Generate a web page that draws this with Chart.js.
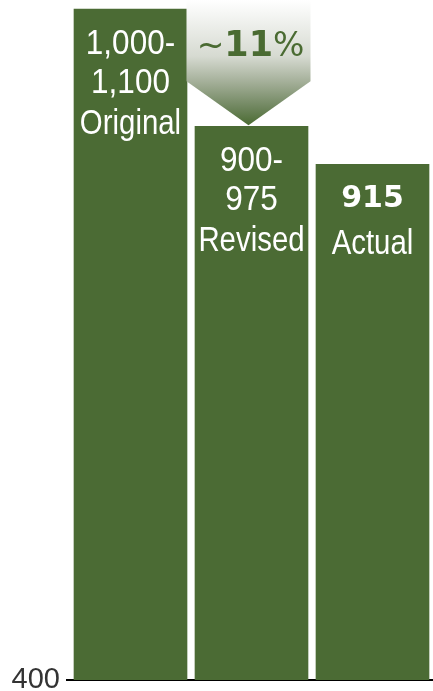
<!DOCTYPE html>
<html>
<head>
<meta charset="utf-8">
<script src="https://cdn.jsdelivr.net/npm/chart.js@4.4.1/dist/chart.umd.min.js"></script>
<style>
  html, body { margin: 0; padding: 0; background: #fff; }
  #wrap { width: 433px; height: 691px; position: relative; }
</style>
</head>
<body>
<div id="wrap"><canvas id="myChart"></canvas></div>
<script>
"use strict"

// chart data
const categories = ["Original", "Revised", "Actual"];
const rangeLabels = [["1,000-", "1,100"], ["900-", "975"], ["915"]];
const boldRange = [false, false, true];
const values = [1070, 953, 915];
const changeLabel = ["~", "11", "%"];
const yTicks = [400];
const yMin = 400;
const yMax = 1073;

const barGreen = "#4b6b34";

// white text, squeezed a bit to look like the original narrow font
function drawNarrow(ctx, text, x, y, squeeze) {
    ctx.save();
    ctx.translate(x, y);
    ctx.scale(squeeze, 1);
    ctx.fillText(text, 0, 0);
    ctx.restore();
}

// labels inside the bars
const barLabelPlugin = {
    id: "barLabels",
    afterDatasetsDraw(chart) {
        const ctx = chart.ctx;
        const meta = chart.getDatasetMeta(0);
        ctx.save();
        ctx.fillStyle = "#ffffff";
        ctx.textAlign = "center";
        ctx.textBaseline = "alphabetic";
        for (let i = 0; i < meta.data.length; i++) {
            const bar = meta.data[i];
            const lines = rangeLabels[i];
            let y;
            if (boldRange[i]) {
                y = bar.y + 43;
                ctx.font = "bold 30px 'DejaVu Sans'";
                ctx.fillText(lines[0], bar.x, y);
                y += 47;
            } else {
                y = bar.y + 45;
                ctx.font = "35px 'Liberation Sans'";
                for (let k = 0; k < lines.length; k++) {
                    drawNarrow(ctx, lines[k], bar.x, y, 0.9);
                    y += (k < lines.length - 1) ? 39 : 41;
                }
            }
            ctx.font = "35px 'Liberation Sans'";
            drawNarrow(ctx, categories[i], bar.x, y, 0.84);
        }
        ctx.restore();
    }
};

// gradient arrow pointing down at the revised bar
const arrowPlugin = {
    id: "changeArrow",
    afterDatasetsDraw(chart) {
        const ctx = chart.ctx;
        const bar = chart.getDatasetMeta(0).data[1];
        const tipX = bar.x - 3;
        const tipY = bar.y - 1;
        const half = 62;
        const topY = 0;
        const neckY = tipY - 44;

        const grad = ctx.createLinearGradient(0, topY, 0, tipY);
        grad.addColorStop(0, "#ffffff");
        grad.addColorStop(0.45, "#d6dad1");
        grad.addColorStop(0.65, "#a5b09a");
        grad.addColorStop(0.85, "#718760");
        grad.addColorStop(1, "#4a6b32");

        ctx.save();
        ctx.beginPath();
        ctx.moveTo(tipX - half, topY);
        ctx.lineTo(tipX + half, topY);
        ctx.lineTo(tipX + half, neckY);
        ctx.lineTo(tipX, tipY);
        ctx.lineTo(tipX - half, neckY);
        ctx.closePath();
        ctx.fillStyle = grad;
        ctx.fill();

        // "~11%" with bold number
        const fonts = ["33px 'DejaVu Sans'", "bold 35px 'DejaVu Sans'", "33px 'DejaVu Sans'"];
        let total = 0;
        const widths = [];
        for (let i = 0; i < changeLabel.length; i++) {
            ctx.font = fonts[i];
            widths.push(ctx.measureText(changeLabel[i]).width);
            total += widths[i];
        }
        let x = tipX + 2 - total / 2;
        ctx.fillStyle = "#4a6b32";
        ctx.textAlign = "left";
        ctx.textBaseline = "alphabetic";
        for (let i = 0; i < changeLabel.length; i++) {
            ctx.font = fonts[i];
            ctx.fillText(changeLabel[i], x, topY + 56);
            x += widths[i];
        }
        ctx.restore();
    }
};

const data = {
    labels: categories,
    datasets: [
        {
            data: values,
            backgroundColor: barGreen,
            borderWidth: 0,
            barThickness: 113
        }
    ]
};

const config = {
    type: "bar",
    data: data,
    options: {
        responsive: true,
        maintainAspectRatio: false,
        animation: false,
        layout: { padding: { top: 0, right: 0, bottom: 3, left: 0 } },
        plugins: {
            legend: { display: false },
            tooltip: { enabled: false }
        },
        scales: {
            x: {
                grid: { display: false },
                ticks: { display: false },
                border: { display: true, color: "#000000", width: 2 }
            },
            y: {
                min: yMin,
                max: yMax,
                afterBuildTicks(scale) {
                    scale.ticks = yTicks.map(v => ({ value: v }));
                },
                afterFit(scale) {
                    scale.width = 70;
                },
                grid: {
                    drawOnChartArea: false,
                    drawTicks: true,
                    tickLength: 4,
                    color: "#000000",
                    lineWidth: 2
                },
                border: { display: false },
                ticks: {
                    color: "#333333",
                    padding: 6,
                    font: { family: "'Liberation Sans'", size: 29, lineHeight: 0.01 }
                }
            }
        }
    },
    plugins: [barLabelPlugin, arrowPlugin]
};

const myChart = new Chart(document.getElementById("myChart"), config);
</script>
</body>
</html>
